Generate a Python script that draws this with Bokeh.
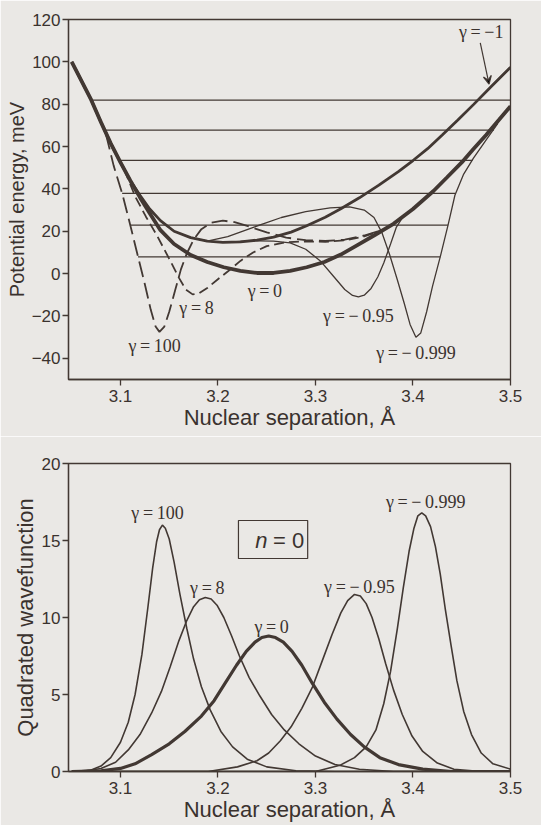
from bokeh.plotting import figure
from bokeh.models import Range1d, FixedTicker, Label, Arrow, VeeHead, BoxAnnotation
from bokeh.layouts import column
from bokeh.embed import file_html
from bokeh.resources import INLINE

BG = "#eae8e5"
INK = "#423833"
TXT = "#3a322e"

# ---------------- top panel: potential energy curves (meV) ----------------
# gamma = -1 (medium thick)
g_m1_x = [3.05, 3.06, 3.07, 3.08, 3.09, 3.10, 3.11, 3.12, 3.13, 3.141, 3.155, 3.172, 3.189, 3.205,
          3.223, 3.24, 3.257, 3.275, 3.291, 3.31, 3.326, 3.345, 3.365, 3.385, 3.40, 3.415, 3.43,
          3.446, 3.462, 3.48, 3.5]
g_m1_y = [100, 91, 82, 71.5, 61.5, 52.5, 44, 37, 30.5, 25, 20, 17, 15.3, 14.8,
          15, 15.8, 17.2, 19.6, 22.6, 26.6, 30.6, 35.8, 41.8, 48.2, 53.4, 59.0, 65.5,
          72.5, 79.8, 88.2, 97.5]

# gamma = 0 (bold)
g_0_x = [3.05, 3.06, 3.07, 3.08, 3.09, 3.10, 3.11, 3.12, 3.13, 3.141, 3.155, 3.172, 3.189, 3.206,
         3.223, 3.24, 3.257, 3.274, 3.291, 3.309, 3.326, 3.343, 3.36, 3.38, 3.40, 3.421, 3.435,
         3.45, 3.462, 3.475, 3.488, 3.5]
g_0_y = [100, 91, 82, 71.5, 61.5, 52.5, 44, 36, 28.5, 20.5, 14, 8.8, 5.5, 3,
         1.3, 0.3, 0.3, 1.3, 3, 5.5, 9, 13.5, 18, 23.5, 30.5, 39, 45.5,
         52.5, 58.8, 65.5, 72.5, 79]

# gamma = 100 (long dashes)
g_100_x = [3.085, 3.093, 3.102, 3.110, 3.118, 3.125, 3.131, 3.136, 3.140, 3.145, 3.150, 3.156, 3.162,
           3.168, 3.175, 3.183, 3.193, 3.205, 3.217, 3.23, 3.25, 3.27, 3.29, 3.31, 3.33, 3.35, 3.37]
g_100_y = [66, 51, 37.5, 23, 8, -5, -17, -25, -27.5, -25, -18, -8, 2,
           9.5, 16, 21, 24, 25, 24.3, 22.5, 19.5, 17, 15.8, 15.4, 16, 18, 20.8]

# gamma = 8 (dashes)
g_8_x = [3.104, 3.115, 3.126, 3.138, 3.15, 3.16, 3.167, 3.174, 3.181, 3.189, 3.199, 3.21, 3.223,
         3.236, 3.25, 3.27, 3.29, 3.31, 3.33, 3.35, 3.37]
g_8_y = [49, 36.5, 27, 17.5, 7, -2, -7.5, -9.8, -9.2, -6.8, -3, 1, 6,
         10, 13, 14.8, 15.2, 15, 15.7, 17.6, 20.8]

# gamma = -0.95 (thin)
g_m095_x = [3.05, 3.06, 3.07, 3.08, 3.09, 3.10, 3.11, 3.12, 3.13, 3.141, 3.155, 3.172, 3.189, 3.205,
            3.223, 3.24, 3.257, 3.274, 3.29, 3.305, 3.318, 3.33, 3.338, 3.344, 3.35, 3.357, 3.364,
            3.37, 3.377, 3.383, 3.39]
g_m095_y = [100, 91, 82, 71.5, 61.5, 52.5, 44, 37, 30.5, 25, 20, 17, 15.3, 14.8,
            15.2, 15.5, 15.3, 14.5, 11.5, 6, -1, -7.5, -10.3, -11, -10.2, -7, -1.5,
            5, 14, 22, 27]

# gamma = -0.999 (thin)
g_m0999_x = [3.05, 3.06, 3.07, 3.08, 3.09, 3.10, 3.11, 3.12, 3.13, 3.141, 3.155, 3.172, 3.189,
             3.21, 3.237, 3.265, 3.29, 3.315, 3.335, 3.35, 3.36, 3.368, 3.376, 3.384, 3.391, 3.397,
             3.403, 3.408, 3.414, 3.42, 3.428, 3.436, 3.443, 3.452, 3.462, 3.474, 3.487]
g_m0999_y = [100, 91, 82, 71.5, 61.5, 52.5, 44, 37, 30.5, 25, 20, 17, 15.3,
             17.5, 22, 26.5, 29.3, 31, 31.5, 30, 26.5, 19.5, 9, -3, -14, -24,
             -30, -28, -18, -6, 8, 23, 37, 47, 54.5, 62.5, 71]

# vibrational levels (meV) and their extents (Angstrom)
lev_e = [7.9, 22.9, 37.9, 53.5, 67.8, 81.9]
lev_x0 = [3.118, 3.110, 3.1017, 3.0985, 3.083, 3.070]
lev_x1 = [3.428, 3.436, 3.4435, 3.461, 3.483, 3.5]

# ---------------- bottom panel: squared wavefunctions, n = 0 ----------------
w_100_x = [3.05, 3.07, 3.08, 3.09, 3.10, 3.108, 3.115, 3.122, 3.128, 3.133, 3.137, 3.140, 3.143,
           3.146, 3.150, 3.155, 3.161, 3.168, 3.175, 3.183, 3.192, 3.203, 3.215, 3.23, 3.25,
           3.28, 3.32, 3.5]
w_100_y = [0, 0.1, 0.35, 0.9, 1.9, 3.2, 5.0, 7.6, 10.6, 13.2, 14.9, 15.7, 16.0,
           15.8, 15.1, 13.6, 11.5, 9.3, 7.3, 5.5, 4.0, 2.6, 1.6, 0.8, 0.3,
           0.05, 0, 0]

w_8_x = [3.05, 3.06, 3.08, 3.095, 3.108, 3.12, 3.132, 3.142, 3.151, 3.16, 3.168, 3.175, 3.181,
         3.187, 3.193, 3.199, 3.206, 3.214, 3.222, 3.232, 3.243, 3.255, 3.268, 3.283, 3.30,
         3.32, 3.345, 3.38, 3.5]
w_8_y = [0, 0, 0.2, 0.6, 1.4, 2.4, 3.8, 5.2, 6.8, 8.5, 9.8, 10.7, 11.15,
         11.3, 11.2, 10.8, 10.0, 8.8, 7.5, 6.1, 4.9, 3.7, 2.7, 1.8, 1.0,
         0.45, 0.15, 0, 0]

w_0_x = [3.05, 3.08, 3.10, 3.115, 3.132, 3.15, 3.166, 3.183, 3.196, 3.208, 3.219, 3.229, 3.238,
         3.245, 3.252, 3.259, 3.267, 3.276, 3.286, 3.297, 3.309, 3.322, 3.336, 3.35, 3.366,
         3.385, 3.41, 3.44, 3.5]
w_0_y = [0, 0.05, 0.2, 0.5, 1.1, 1.8, 2.6, 3.6, 4.6, 5.8, 6.9, 7.8, 8.4,
         8.7, 8.8, 8.7, 8.4, 7.8, 6.9, 5.7, 4.5, 3.4, 2.4, 1.6, 0.9,
         0.45, 0.15, 0, 0]

w_m095_x = [3.05, 3.19, 3.22, 3.24, 3.252, 3.264, 3.275, 3.286, 3.297, 3.307, 3.317, 3.326, 3.333,
            3.340, 3.346, 3.352, 3.358, 3.365, 3.372, 3.380, 3.389, 3.399, 3.41, 3.425, 3.442,
            3.47, 3.5]
w_m095_y = [0, 0, 0.3, 0.7, 1.2, 2.0, 2.9, 4.1, 5.5, 7.2, 8.9, 10.3, 11.1,
            11.5, 11.4, 10.9, 10.0, 8.6, 7.0, 5.3, 3.7, 2.3, 1.3, 0.55, 0.15,
            0, 0]

w_m0999_x = [3.05, 3.30, 3.325, 3.34, 3.352, 3.362, 3.37, 3.377, 3.384, 3.39, 3.396, 3.401, 3.405,
             3.409, 3.413, 3.418, 3.423, 3.428, 3.433, 3.439, 3.445, 3.452, 3.46, 3.47, 3.482, 3.5]
w_m0999_y = [0, 0, 0.4, 0.9, 1.6, 2.7, 4.4, 6.5, 9.3, 11.9, 14.3, 15.8, 16.6,
             16.8, 16.6, 15.9, 14.6, 12.8, 10.6, 8.2, 5.9, 3.9, 2.4, 1.2, 0.5, 0.15]

x_ticks = [3.1, 3.2, 3.3, 3.4, 3.5]
top_y_ticks = [-40, -20, 0, 20, 40, 60, 80, 100, 120]
bot_y_ticks = [0, 5, 10, 15, 20]

TS = "\u2009"  # thin space used in the gamma labels


def style(p, yticks):
    p.background_fill_color = BG
    p.border_fill_color = BG
    p.outline_line_color = INK
    p.outline_line_width = 1.3
    p.xgrid.visible = False
    p.ygrid.visible = False
    p.xaxis.ticker = FixedTicker(ticks=x_ticks)
    p.yaxis.ticker = FixedTicker(ticks=yticks)
    for ax in (p.xaxis, p.yaxis):
        ax.axis_line_color = INK
        ax.axis_line_width = 1.3
        ax.major_tick_line_color = INK
        ax.major_tick_line_width = 1.3
        ax.major_tick_out = 6
        ax.major_tick_in = 0
        ax.minor_tick_line_color = None
        ax.major_label_text_font = "Liberation Sans"
        ax.major_label_text_font_size = "17px"
        ax.major_label_text_color = TXT
        ax.axis_label_text_font = "Liberation Sans"
        ax.axis_label_text_font_style = "normal"
        ax.axis_label_text_color = TXT
    p.xaxis.axis_label = "Nuclear separation, Å"
    p.xaxis.axis_label_text_font_size = "22px"
    p.xaxis.major_label_standoff = 4
    p.xaxis.axis_label_standoff = 0
    p.yaxis.major_label_standoff = 2
    p.yaxis.axis_label_standoff = 1


def glabel(p, x, y, t):
    p.add_layout(Label(x=x, y=y, text=t, text_align="center", text_baseline="middle",
                       text_font="Liberation Serif", text_font_size="18px", text_color=TXT))


def gtext(v):
    return "γ" + TS + "=" + TS + v


xr = (3.0467, 3.5)

# ---------------- top figure ----------------
p1 = figure(width=541, height=436, x_range=Range1d(*xr), y_range=Range1d(-50, 120),
            output_backend="svg", toolbar_location=None,
            min_border_left=68, min_border_right=31, min_border_top=19, min_border_bottom=57)
style(p1, top_y_ticks)
p1.yaxis.axis_label = "Potential energy, meV"
p1.yaxis.axis_label_text_font_size = "20px"

p1.segment(x0=lev_x0, y0=lev_e, x1=lev_x1, y1=lev_e, line_color=INK, line_width=1.2)
p1.line(g_m095_x, g_m095_y, line_color=INK, line_width=1.3)
p1.line(g_m0999_x, g_m0999_y, line_color=INK, line_width=1.3)
p1.line(g_100_x, g_100_y, line_color=INK, line_width=1.8, line_dash="16 6")
p1.line(g_8_x, g_8_y, line_color=INK, line_width=1.8, line_dash="10 5")
p1.line(g_m1_x, g_m1_y, line_color=INK, line_width=2.8)
p1.line(g_0_x, g_0_y, line_color=INK, line_width=3.8)

glabel(p1, 3.135, -34, gtext("100"))
glabel(p1, 3.178, -16.2, gtext("8"))
glabel(p1, 3.248, -8, gtext("0"))
glabel(p1, 3.344, -20, gtext("−" + TS + "0.95"))
glabel(p1, 3.403, -37.5, gtext("−" + TS + "0.999"))
glabel(p1, 3.470, 114, gtext("−1"))
p1.add_layout(Arrow(x_start=3.469, y_start=109, x_end=3.478, y_end=89.5,
                    line_color=INK, line_width=1.2,
                    end=VeeHead(size=8, line_color=INK, line_width=1.2)))

# ---------------- bottom figure ----------------
p2 = figure(width=541, height=389, x_range=Range1d(*xr), y_range=Range1d(0, 20),
            output_backend="svg", toolbar_location=None,
            min_border_left=68, min_border_right=31, min_border_top=27, min_border_bottom=54)
style(p2, bot_y_ticks)
p2.yaxis.axis_label = "Quadrated wavefunction"
p2.yaxis.axis_label_text_font_size = "22px"

p2.line(w_100_x, w_100_y, line_color=INK, line_width=1.6)
p2.line(w_8_x, w_8_y, line_color=INK, line_width=1.6)
p2.line(w_m095_x, w_m095_y, line_color=INK, line_width=1.6)
p2.line(w_m0999_x, w_m0999_y, line_color=INK, line_width=1.6)
p2.line(w_0_x, w_0_y, line_color=INK, line_width=3.2)

glabel(p2, 3.138, 16.8, gtext("100"))
glabel(p2, 3.189, 11.9, gtext("8"))
glabel(p2, 3.255, 9.4, gtext("0"))
glabel(p2, 3.345, 12.0, gtext("−" + TS + "0.95"))
glabel(p2, 3.413, 17.5, gtext("−" + TS + "0.999"))

p2.add_layout(BoxAnnotation(left=3.221, right=3.292, bottom=13.83, top=16.3,
                            fill_alpha=0, line_color=INK, line_width=1.2, line_alpha=1))
p2.add_layout(Label(x=3.2445, y=15.0, text="n", text_align="center", text_baseline="middle",
                    text_font="Liberation Sans", text_font_style="italic", text_font_size="22px",
                    text_color=TXT))
p2.add_layout(Label(x=3.2725, y=15.0, text="= 0", text_align="center", text_baseline="middle",
                    text_font="Liberation Sans", text_font_size="22px", text_color=TXT))

layout = column(p1, p2, spacing=0)
open("out.html", "w").write(file_html(layout, INLINE))
